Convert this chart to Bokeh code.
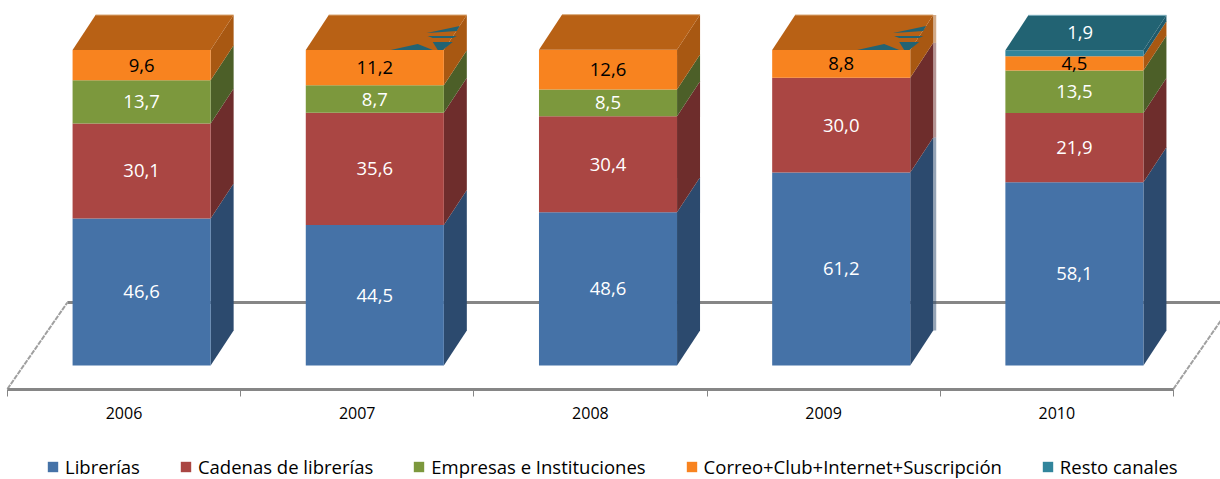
from bokeh.plotting import figure, ColumnDataSource
from bokeh.models import LinearAxis, FixedTicker, Legend, LegendItem
from bokeh.core.properties import value
from bokeh.embed import file_html
from bokeh.resources import INLINE

years = ["2006", "2007", "2008", "2009", "2010"]
librerias = [46.6, 44.5, 48.6, 61.2, 58.1]
cadenas = [30.1, 35.6, 30.4, 30.0, 21.9]
empresas = [13.7, 8.7, 8.5, 0.0, 13.5]
correo = [9.6, 11.2, 12.6, 8.8, 4.5]
resto = [0.0, 0.0, 0.0, 0.0, 1.9]

names = ["Librerías", "Cadenas de librerías", "Empresas e Instituciones",
         "Correo+Club+Internet+Suscripción", "Resto canales"]
series = [librerias, cadenas, empresas, correo, resto]
front = ["#4572A7", "#AA4643", "#7C983D", "#F8831F", "#31859C"]
side = ["#2C4A6E", "#6E2D2C", "#4C5F28", "#A85812", "#1F5A6B"]
top = ["#2C4A6E", "#6E2D2C", "#4C5F28", "#B86115", "#226373"]
label_col = ["white", "white", "white", "black", "white"]

W, H = 1220, 479
SLOT = 233.2          # px per category
UNIT = 3.155          # px per percentage point
X0, Y0 = 123.5, 365   # px of first category label, px of value 0
BAR_SHIFT, BAR_HALF = 0.0755, 0.296
DX, DY = 23 / SLOT, 35 / UNIT
FLOOR_FRONT, FLOOR_BACK = -23.5 / UNIT, 63 / UNIT
FLOOR_DX = 60 / SLOT

p = figure(width=W, height=H, output_backend="svg", toolbar_location=None,
           x_range=(-X0 / SLOT, (W - X0) / SLOT),
           y_range=((Y0 - H) / UNIT, Y0 / UNIT),
           x_axis_type=None, y_axis_type=None, min_border=0,
           outline_line_color=None, background_fill_color="white")

n = len(years)
# floor
p.line([-0.5 + FLOOR_DX, n - 0.5 + FLOOR_DX], [FLOOR_BACK, FLOOR_BACK], line_color="#868686", line_width=3)
p.line([-0.5, -0.5 + FLOOR_DX], [FLOOR_FRONT, FLOOR_BACK], line_color="#A0A0A0", line_width=2, line_dash="5 1")
p.line([n - 0.5, n - 0.5 + FLOOR_DX], [FLOOR_FRONT, FLOOR_BACK], line_color="#A0A0A0", line_width=2, line_dash="5 1")

axis = LinearAxis(ticker=FixedTicker(ticks=list(range(n)), minor_ticks=[i - 0.5 for i in range(n + 1)]),
                  major_label_overrides={i: y for i, y in enumerate(years)},
                  fixed_location=FLOOR_FRONT, bounds=(-0.5, n - 0.5),
                  axis_line_color="#868686", axis_line_width=3,
                  major_tick_line_color=None, minor_tick_line_color="#868686",
                  minor_tick_out=7, minor_tick_in=0, major_label_standoff=11,
                  major_label_text_font="Open Sans", major_label_text_font_size="16px",
                  major_label_text_color="black")
p.add_layout(axis, "below")

cx = [i + BAR_SHIFT for i in range(n)]
left = [c - BAR_HALF for c in cx]
right = [c + BAR_HALF for c in cx]
bottoms = [0.0] * n
items = []
lab_x, lab_y, lab_t, lab_c = [], [], [], []
for k, vals in enumerate(series):
    tops = [b + v for b, v in zip(bottoms, vals)]
    xs = [[r, r + DX, r + DX, r] for r in right]
    ys = [[b, b + DY, t + DY, t] for b, t in zip(bottoms, tops)]
    keep = [i for i in range(n) if vals[i] > 0]
    p.patches([xs[i] for i in keep], [ys[i] for i in keep], fill_color=side[k], line_color=None)
    # the 2009 column has no green band: its side shows a faint rim
    if 3 in keep:
        rim = 3 / SLOT
        p.patches([[right[3] + DX, right[3] + DX + rim, right[3] + DX + rim, right[3] + DX]],
                  [[bottoms[3] + DY, bottoms[3] + DY, tops[3] + DY, tops[3] + DY]],
                  fill_color=side[k], fill_alpha=0.5, line_color=None)
    src = ColumnDataSource(dict(left=left, right=right, bottom=bottoms, top=tops))
    r = p.quad(left="left", right="right", bottom="bottom", top="top", source=src,
               fill_color=front[k], line_color=None)
    items.append(LegendItem(label=names[k], renderers=[r]))
    for i in keep:
        is_top = k == len(series) - 1
        lab_x.append(cx[i] + (DX / 4 if is_top else 0))
        lab_y.append(tops[i] + DY / 2 if is_top else (bottoms[i] + tops[i]) / 2)
        lab_t.append(f"{vals[i]:.1f}".replace(".", ","))
        lab_c.append(label_col[k])
    bottoms = tops

last = [max(k for k in range(len(series)) if series[k][i] > 0) for i in range(n)]
p.patches([[l, l + DX, r + DX, r] for l, r in zip(left, right)],
          [[t, t + DY, t + DY, t] for t in bottoms],
          fill_color=[top[k] for k in last], line_color=None)
p.segment([l + DX for l in left], [t + DY for t in bottoms], [r + DX for r in right], [t + DY for t in bottoms],
          line_color=["#D9A877" if last[i] == 3 else "#7FB0BE" for i in range(n)], line_width=1)

# teal traces of the empty "Resto canales" band showing through the top of 2007 and 2009
trace_px = [
    ([85, 112, 127], [0, 6, 0]),
    ([121, 154, 151, 122], [17, 24, 19, 17]),
    ([122, 151, 147, 127], [14, 14, 12, 12]),
    ([127, 147, 137, 132], [8, 8, 0, 0]),
]
for i in (1, 3):
    p.patches([[left[i] + a / SLOT for a in tx] for tx, _ in trace_px],
              [[bottoms[i] + b / UNIT for b in ty] for _, ty in trace_px],
              fill_color=top[4], line_color=None)

p.text(lab_x, lab_y, text=lab_t, text_color=lab_c, text_align="center", text_baseline="middle",
       text_font=value("Open Sans"), text_font_size="18.5px")

legend = Legend(items=items, orientation="horizontal", location=(46, 0), margin=0, padding=0,
                spacing=39, label_standoff=6, glyph_width=13, glyph_height=13,
                border_line_color=None, background_fill_alpha=0,
                label_text_font="Open Sans", label_text_font_size="18.5px", label_text_color="black")
p.add_layout(legend, "center")

open("out.html", "w").write(file_html(p, INLINE))
